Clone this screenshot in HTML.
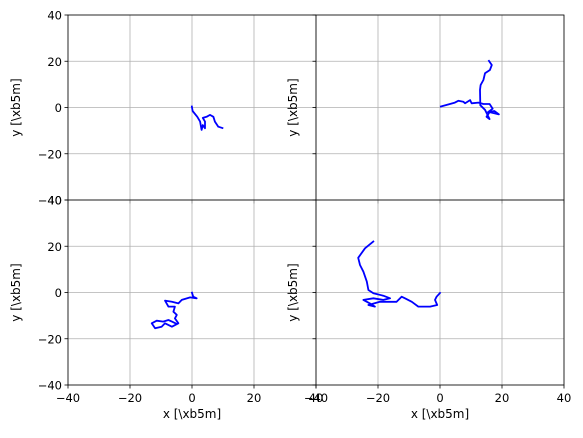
<!DOCTYPE html>
<html><head><meta charset="utf-8"><style>
body{margin:0;background:#fff}
svg{display:block;font-family:"DejaVu Sans","Liberation Sans",sans-serif}
</style></head><body>
<svg id="c" width="583" height="438"></svg>
<script>
const ticks=[-40,-20,0,20,40];
const tickLabels=["−40","−20","0","20","40"];
const t1x=[-0.1,0.2,1.7,2.6,3.1,3.5,4.2,4.2,3.5,4.7,5.8,6.9,7.4,8.5,10.1];
const t1y=[0.8,-1.5,-4,-6.1,-9.7,-7.6,-9,-6.1,-4.5,-4,-3.2,-4,-6.1,-8.3,-9];
const t2x=[0,4.8,5.9,7.5,8.1,9.7,10.2,12.4,14,16,17,15.5,17.5,19,16,15,16,14.5,13,12.9,13.1,14,14.5,16.1,16.7,15.6];
const t2y=[0.3,2.1,2.9,2.5,1.8,3.2,1.8,2.1,1.5,1.5,-0.5,-2,-1.5,-3,-2,-4,-5,-1,1,7.6,9.7,11.9,14.8,16.2,18.4,20.5];
const t3x=[-0.1,0.4,1.5,-0.6,-3.3,-4.4,-6.5,-8.7,-7.6,-5.5,-6,-4.9,-5.5,-4.4,-6.5,-8.7,-9.8,-11.9,-13,-11.4,-9.3,-7.6,-6.5,-4.9];
const t3y=[0.3,-1.8,-2.5,-2.1,-3.2,-4.7,-4,-3.5,-6.1,-6.1,-8.3,-9.7,-11.2,-13.3,-14.8,-13.3,-14.8,-15.5,-13.3,-12.2,-12.6,-11.9,-12.6,-13.6];
const t4x=[0.2,-1.1,-1.6,-0.9,-3.2,-7,-9.1,-11.3,-12.4,-14,-19.4,-23.1,-21,-22.6,-24.7,-21.5,-18.3,-16.1,-18.3,-21.5,-23.1,-23.6,-24.7,-25.8,-26.4,-24.2,-21.3];
const t4y=[0.1,-1.8,-3.2,-5.4,-6.1,-6.1,-4,-2.5,-1.8,-4,-4,-5.4,-6.1,-4.7,-3.2,-2.5,-3.2,-2.5,-1.4,-0.3,1.1,4.7,9,11.9,15,19.1,22.3];
const NS="http://www.w3.org/2000/svg",svg=document.getElementById('c');
function mk(t,a,p){const e=document.createElementNS(NS,t);for(const k in a)e.setAttribute(k,a[k]);(p||svg).appendChild(e);return e;}
const panels=[{x0:68,y0:15,xs:t1x,ys:t1y,left:true,bottom:false},{x0:316,y0:15,xs:t2x,ys:t2y,left:false,bottom:false},
{x0:68,y0:200,xs:t3x,ys:t3y,left:true,bottom:true},{x0:316,y0:200,xs:t4x,ys:t4y,left:false,bottom:true}];
const W=248,H=185;
panels.forEach((p,i)=>{
  const g=mk('g',{});
  
  
  const sx=v=>p.x0+(v+40)/80*W, sy=v=>p.y0+H-(v+40)/80*H;
  ticks.forEach((t,k)=>{
    const gx=mk('line',{x1:sx(t),x2:sx(t),y1:p.y0,y2:p.y0+H,stroke:'#b0b0b0','stroke-width':0.8},g);
    
    
    const gy=mk('line',{x1:p.x0,x2:p.x0+W,y1:sy(t),y2:sy(t),stroke:'#b0b0b0','stroke-width':0.8},g);
    
    
    mk('line',{x1:p.x0-3.5,x2:p.x0,y1:sy(t),y2:sy(t),stroke:'#000','stroke-width':0.8},g);
    mk('line',{x1:sx(t),x2:sx(t),y1:p.y0+H,y2:p.y0+H+3.5,stroke:'#000','stroke-width':0.8},g);
    if(p.left){const tl=mk('text',{x:p.x0-6,y:sy(t)+4.5,'text-anchor':'end','font-size':11.5,fill:'#000'},g);tl.textContent=tickLabels[k];
      }
    if(p.bottom){const tl=mk('text',{x:sx(t),y:p.y0+H+17,'text-anchor':'middle','font-size':11.5,fill:'#000'},g);tl.textContent=tickLabels[k];
      }
  });
  const d=p.xs.map((v,j)=>(j?'L':'M')+sx(v).toFixed(1)+' '+sy(p.ys[j]).toFixed(1)).join(' ');
  const path=mk('path',{d:d,fill:'none',stroke:'#0000ff','stroke-width':1.8,'stroke-linejoin':'round'},g);
  
  
  const r=mk('rect',{x:p.x0,y:p.y0,width:W,height:H,fill:'none',stroke:'#000','stroke-width':0.8},g);
  
  
  const yl=mk('text',{x:0,y:0,transform:`translate(${p.x0-(p.left?48:19)},${p.y0+H/2}) rotate(-90)`,'text-anchor':'middle','font-size':12,fill:'#000'},g);
  yl.textContent='y [\\xb5m]';
  
  
  if(p.bottom){const xl=mk('text',{x:p.x0+W/2,y:p.y0+H+33,'text-anchor':'middle','font-size':12,fill:'#000'},g);
    xl.textContent='x [\\xb5m]';
    
    }
});
</script>
</body></html>
